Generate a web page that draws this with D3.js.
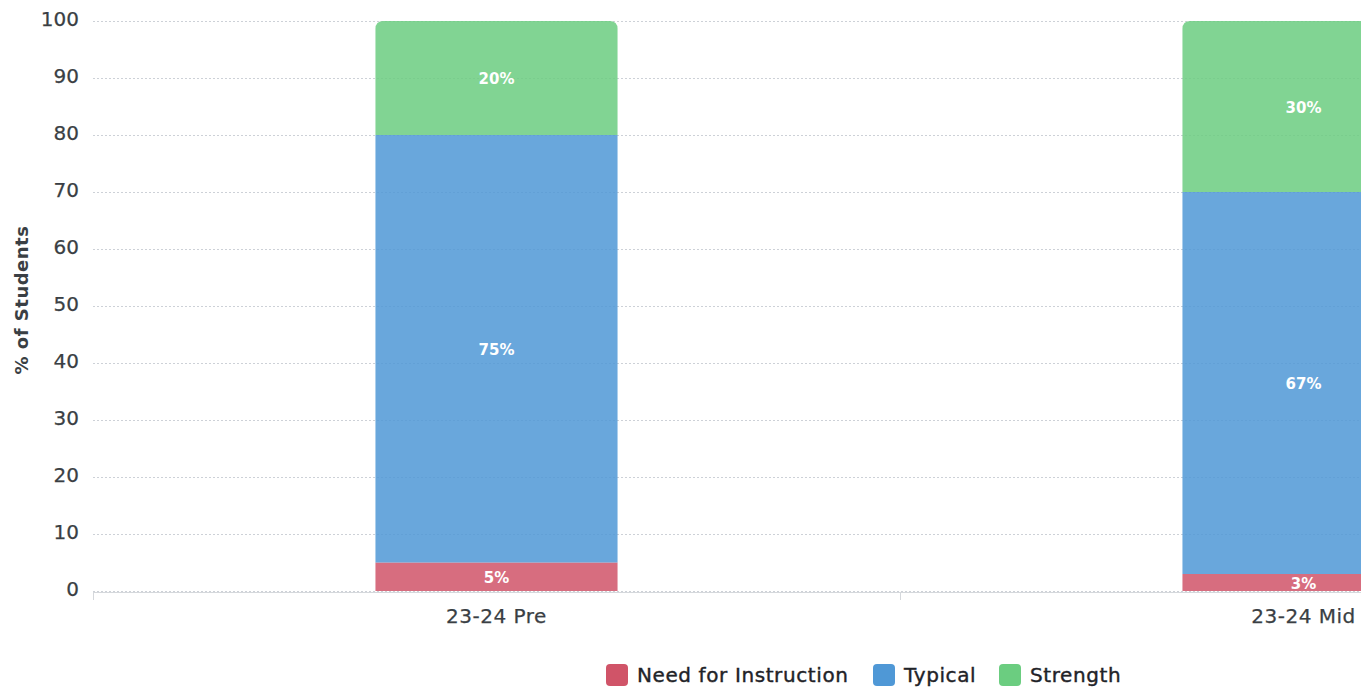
<!DOCTYPE html>
<html><head><meta charset="utf-8">
<script src="https://cdn.jsdelivr.net/npm/d3@7"></script>
<style>
html,body{margin:0;padding:0;background:#fff;overflow:hidden;}
svg{display:block;font-family:"DejaVu Sans",Inter,sans-serif;}
</style></head>
<body><svg id="c" width="1361" height="688"></svg>
<script>
const categories = ["23-24 Pre", "23-24 Mid"];
const seriesNames = ["Need for Instruction", "Typical", "Strength"];
const needValues = [5, 3];
const typicalValues = [75, 67];
const strengthValues = [20, 30];
const yTicks = [0,10,20,30,40,50,60,70,80,90,100];
const colors = ["#d05468", "#4f98d6", "#6bcd80"];

(function(){
const svg = d3.select("#c");
const pLeft = 93, pRight = 1707, pTop = 21, pBottom = 591;
const y = d3.scaleLinear().domain([0,100]).range([pBottom, pTop]);
const xOuter = d3.scaleBand().domain(categories).range([pLeft, pRight]).padding(0);
const x = d3.scaleBand().domain(categories).range([pLeft, pRight]).paddingInner(0.7).paddingOuter(0.35);

// gridlines
svg.append("g").selectAll("line").data(yTicks).join("line")
  .attr("x1", pLeft).attr("x2", pRight)
  .attr("y1", d=>y(d)+0.5).attr("y2", d=>y(d)+0.5)
  .attr("stroke", "#cdd1d7").attr("stroke-width", 1).attr("stroke-dasharray", "2,2");

// y tick labels
svg.append("g").selectAll("text").data(yTicks).join("text")
  .attr("x", 79).attr("y", d=>y(d)-2).attr("dy", "0.35em")
  .attr("text-anchor", "end").attr("font-size", 20).attr("fill", "#3a3f44")
  .attr("stroke", "#3a3f44").attr("stroke-width", 0.25)
  .text(d=>d);

// y title
svg.append("text").attr("transform", `translate(28,300) rotate(-90)`)
  .attr("text-anchor", "middle").attr("font-size", 18).attr("font-weight", 700)
  .attr("letter-spacing", 0.5)
  .attr("fill", "#3a3f44").text("% of Students");

// stacked data
const rows = categories.map((c,i)=>({cat:c, "Need for Instruction":needValues[i], "Typical":typicalValues[i], "Strength":strengthValues[i]}));
const stack = d3.stack().keys(seriesNames)(rows);
const r = 8;
stack.forEach((layer, li) => {
  const g = svg.append("g");
  layer.forEach(seg => {
    const x0 = x(seg.data.cat), w = x.bandwidth();
    const y0 = y(seg[0]), y1 = y(seg[1]);
    const isTop = li === seriesNames.length - 1;
    let p;
    if (isTop) {
      p = `M${x0},${y0}V${y1+r}Q${x0},${y1} ${x0+r},${y1}H${x0+w-r}Q${x0+w},${y1} ${x0+w},${y1+r}V${y0}Z`;
    } else {
      p = `M${x0},${y0}V${y1}H${x0+w}V${y0}Z`;
    }
    g.append("path").attr("d", p).attr("fill", colors[li]).attr("fill-opacity", 0.85);
    g.append("text").attr("x", x0 + w/2).attr("y", (y0+y1)/2 + 1).attr("dy", "0.35em")
      .attr("text-anchor", "middle").attr("font-size", 15).attr("font-weight", 700)
      .attr("fill", "#fff").text((seg[1]-seg[0]) + "%");
  });
});

// x axis
const ax = svg.append("g");
ax.append("line").attr("x1", pLeft).attr("x2", pRight).attr("y1", pBottom+1.5).attr("y2", pBottom+1.5)
  .attr("stroke", "#d5d8dc").attr("stroke-width", 1);
ax.selectAll("line.t").data(categories).join("line").attr("class","t")
  .attr("x1", d=>xOuter(d)+0.5).attr("x2", d=>xOuter(d)+0.5)
  .attr("y1", pBottom+1).attr("y2", pBottom+9).attr("stroke", "#d5d8dc");
ax.selectAll("text").data(categories).join("text")
  .attr("x", d=>x(d)+x.bandwidth()/2).attr("y", 616).attr("dy","0.35em")
  .attr("text-anchor","middle").attr("font-size", 20).attr("letter-spacing", 0.5)
  .attr("fill", "#3a3f44").attr("stroke", "#3a3f44").attr("stroke-width", 0.25).text(d=>d);

// legend
const legendX = [606, 873, 999];
const lg = svg.append("g");
seriesNames.forEach((n,i)=>{
  lg.append("rect").attr("x", legendX[i]).attr("y", 664).attr("width", 22).attr("height", 22)
    .attr("rx", 4).attr("fill", colors[i]);
  lg.append("text").attr("x", legendX[i]+31).attr("y", 675).attr("dy","0.35em")
    .attr("font-size", 20).attr("letter-spacing", 0.6).attr("fill", "#1f2328")
    .attr("stroke", "#1f2328").attr("stroke-width", 0.4).text(n);
});
})();
</script></body></html>
